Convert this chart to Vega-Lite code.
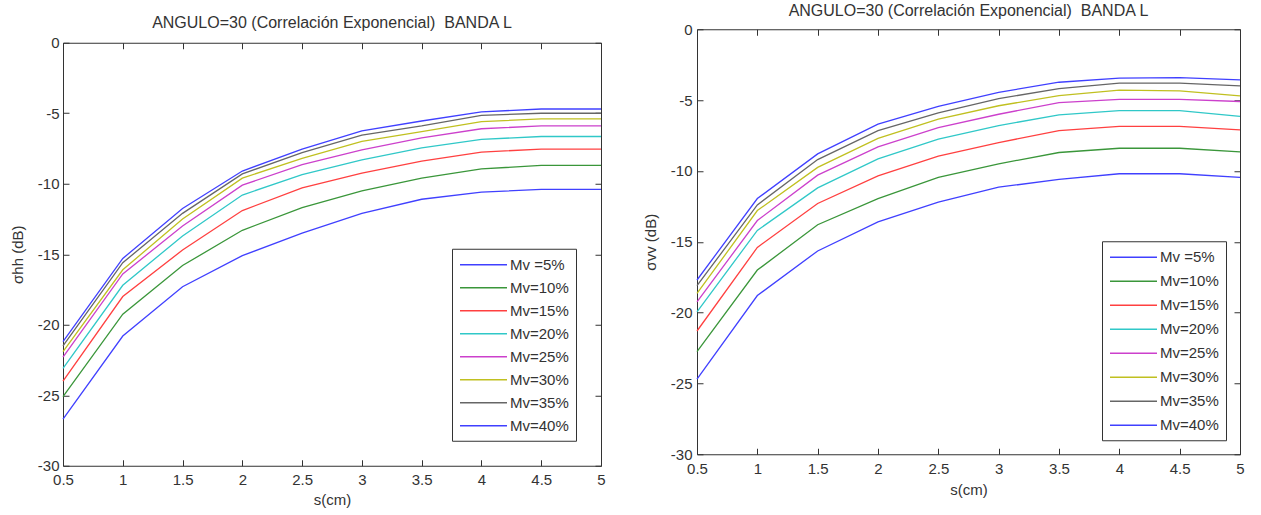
{
  "$schema": "https://vega.github.io/schema/vega-lite/v6.json",
  "padding": {"left": 9, "top": 2, "right": 5, "bottom": 0},
  "background": "white",
  "spacing": 36,
  "center": true,
  "config": {
    "font": "Liberation Sans",
    "view": {"stroke": "#333", "strokeWidth": 1},
    "axis": {
      "grid": false,
      "domain": false,
      "tickColor": "#333",
      "tickSize": 6,
      "offset": -6,
      "labelFlush": false,
      "labelFontSize": 15,
      "labelColor": "#333",
      "labelFont": "Liberation Sans",
      "titleFont": "Liberation Sans",
      "titleFontSize": 15,
      "titleFontWeight": "normal",
      "titleColor": "#333"
    },
    "legend": {
      "orient": "bottom-right",
      "title": null,
      "symbolType": "M-1,0H4.875",
      "symbolSize": 256,
      "symbolStrokeWidth": 1.5,
      "labelFontSize": 15,
      "labelColor": "#333",
      "labelFont": "Liberation Sans",
      "strokeColor": "#333",
      "fillColor": "#ffffff",
      "padding": 7,
      "labelOffset": 33
    },
    "title": {"font": "Liberation Sans", "fontSize": 16, "fontWeight": "normal", "color": "#333"}
  },
  "datasets": {
    "hh": [
      {"s":0.5,"Mv":"Mv =5%","v":-26.7},{"s":1,"Mv":"Mv =5%","v":-20.8},{"s":1.5,"Mv":"Mv =5%","v":-17.3},{"s":2,"Mv":"Mv =5%","v":-15.1},{"s":2.5,"Mv":"Mv =5%","v":-13.5},{"s":3,"Mv":"Mv =5%","v":-12.1},{"s":3.5,"Mv":"Mv =5%","v":-11.1},{"s":4,"Mv":"Mv =5%","v":-10.6},{"s":4.5,"Mv":"Mv =5%","v":-10.4},{"s":5,"Mv":"Mv =5%","v":-10.4},
      {"s":0.5,"Mv":"Mv=10%","v":-25.1},{"s":1,"Mv":"Mv=10%","v":-19.25},{"s":1.5,"Mv":"Mv=10%","v":-15.8},{"s":2,"Mv":"Mv=10%","v":-13.3},{"s":2.5,"Mv":"Mv=10%","v":-11.7},{"s":3,"Mv":"Mv=10%","v":-10.5},{"s":3.5,"Mv":"Mv=10%","v":-9.6},{"s":4,"Mv":"Mv=10%","v":-8.95},{"s":4.5,"Mv":"Mv=10%","v":-8.7},{"s":5,"Mv":"Mv=10%","v":-8.7},
      {"s":0.5,"Mv":"Mv=15%","v":-24.0},{"s":1,"Mv":"Mv=15%","v":-18.0},{"s":1.5,"Mv":"Mv=15%","v":-14.7},{"s":2,"Mv":"Mv=15%","v":-11.9},{"s":2.5,"Mv":"Mv=15%","v":-10.3},{"s":3,"Mv":"Mv=15%","v":-9.25},{"s":3.5,"Mv":"Mv=15%","v":-8.4},{"s":4,"Mv":"Mv=15%","v":-7.75},{"s":4.5,"Mv":"Mv=15%","v":-7.55},{"s":5,"Mv":"Mv=15%","v":-7.55},
      {"s":0.5,"Mv":"Mv=20%","v":-23.1},{"s":1,"Mv":"Mv=20%","v":-17.2},{"s":1.5,"Mv":"Mv=20%","v":-13.7},{"s":2,"Mv":"Mv=20%","v":-10.8},{"s":2.5,"Mv":"Mv=20%","v":-9.35},{"s":3,"Mv":"Mv=20%","v":-8.3},{"s":3.5,"Mv":"Mv=20%","v":-7.45},{"s":4,"Mv":"Mv=20%","v":-6.85},{"s":4.5,"Mv":"Mv=20%","v":-6.65},{"s":5,"Mv":"Mv=20%","v":-6.65},
      {"s":0.5,"Mv":"Mv=25%","v":-22.3},{"s":1,"Mv":"Mv=25%","v":-16.4},{"s":1.5,"Mv":"Mv=25%","v":-13.0},{"s":2,"Mv":"Mv=25%","v":-10.1},{"s":2.5,"Mv":"Mv=25%","v":-8.65},{"s":3,"Mv":"Mv=25%","v":-7.6},{"s":3.5,"Mv":"Mv=25%","v":-6.75},{"s":4,"Mv":"Mv=25%","v":-6.1},{"s":4.5,"Mv":"Mv=25%","v":-5.9},{"s":5,"Mv":"Mv=25%","v":-5.9},
      {"s":0.5,"Mv":"Mv=30%","v":-21.9},{"s":1,"Mv":"Mv=30%","v":-16.1},{"s":1.5,"Mv":"Mv=30%","v":-12.5},{"s":2,"Mv":"Mv=30%","v":-9.6},{"s":2.5,"Mv":"Mv=30%","v":-8.2},{"s":3,"Mv":"Mv=30%","v":-7.0},{"s":3.5,"Mv":"Mv=30%","v":-6.3},{"s":4,"Mv":"Mv=30%","v":-5.6},{"s":4.5,"Mv":"Mv=30%","v":-5.4},{"s":5,"Mv":"Mv=30%","v":-5.4},
      {"s":0.5,"Mv":"Mv=35%","v":-21.5},{"s":1,"Mv":"Mv=35%","v":-15.6},{"s":1.5,"Mv":"Mv=35%","v":-12.1},{"s":2,"Mv":"Mv=35%","v":-9.3},{"s":2.5,"Mv":"Mv=35%","v":-7.8},{"s":3,"Mv":"Mv=35%","v":-6.55},{"s":3.5,"Mv":"Mv=35%","v":-5.9},{"s":4,"Mv":"Mv=35%","v":-5.15},{"s":4.5,"Mv":"Mv=35%","v":-5.0},{"s":5,"Mv":"Mv=35%","v":-5.0},
      {"s":0.5,"Mv":"Mv=40%","v":-21.2},{"s":1,"Mv":"Mv=40%","v":-15.3},{"s":1.5,"Mv":"Mv=40%","v":-11.75},{"s":2,"Mv":"Mv=40%","v":-9.1},{"s":2.5,"Mv":"Mv=40%","v":-7.55},{"s":3,"Mv":"Mv=40%","v":-6.25},{"s":3.5,"Mv":"Mv=40%","v":-5.55},{"s":4,"Mv":"Mv=40%","v":-4.9},{"s":4.5,"Mv":"Mv=40%","v":-4.7},{"s":5,"Mv":"Mv=40%","v":-4.7}
    ],
    "vv": [
      {"s":0.5,"Mv":"Mv =5%","v":-24.7},{"s":1,"Mv":"Mv =5%","v":-18.8},{"s":1.5,"Mv":"Mv =5%","v":-15.65},{"s":2,"Mv":"Mv =5%","v":-13.6},{"s":2.5,"Mv":"Mv =5%","v":-12.2},{"s":3,"Mv":"Mv =5%","v":-11.15},{"s":3.5,"Mv":"Mv =5%","v":-10.6},{"s":4,"Mv":"Mv =5%","v":-10.2},{"s":4.5,"Mv":"Mv =5%","v":-10.2},{"s":5,"Mv":"Mv =5%","v":-10.45},
      {"s":0.5,"Mv":"Mv=10%","v":-22.75},{"s":1,"Mv":"Mv=10%","v":-17.0},{"s":1.5,"Mv":"Mv=10%","v":-13.8},{"s":2,"Mv":"Mv=10%","v":-11.95},{"s":2.5,"Mv":"Mv=10%","v":-10.45},{"s":3,"Mv":"Mv=10%","v":-9.5},{"s":3.5,"Mv":"Mv=10%","v":-8.7},{"s":4,"Mv":"Mv=10%","v":-8.4},{"s":4.5,"Mv":"Mv=10%","v":-8.4},{"s":5,"Mv":"Mv=10%","v":-8.65},
      {"s":0.5,"Mv":"Mv=15%","v":-21.3},{"s":1,"Mv":"Mv=15%","v":-15.4},{"s":1.5,"Mv":"Mv=15%","v":-12.3},{"s":2,"Mv":"Mv=15%","v":-10.35},{"s":2.5,"Mv":"Mv=15%","v":-8.95},{"s":3,"Mv":"Mv=15%","v":-8.0},{"s":3.5,"Mv":"Mv=15%","v":-7.15},{"s":4,"Mv":"Mv=15%","v":-6.85},{"s":4.5,"Mv":"Mv=15%","v":-6.85},{"s":5,"Mv":"Mv=15%","v":-7.1},
      {"s":0.5,"Mv":"Mv=20%","v":-19.95},{"s":1,"Mv":"Mv=20%","v":-14.2},{"s":1.5,"Mv":"Mv=20%","v":-11.2},{"s":2,"Mv":"Mv=20%","v":-9.15},{"s":2.5,"Mv":"Mv=20%","v":-7.75},{"s":3,"Mv":"Mv=20%","v":-6.8},{"s":3.5,"Mv":"Mv=20%","v":-6.05},{"s":4,"Mv":"Mv=20%","v":-5.75},{"s":4.5,"Mv":"Mv=20%","v":-5.75},{"s":5,"Mv":"Mv=20%","v":-6.15},
      {"s":0.5,"Mv":"Mv=25%","v":-19.25},{"s":1,"Mv":"Mv=25%","v":-13.5},{"s":1.5,"Mv":"Mv=25%","v":-10.3},{"s":2,"Mv":"Mv=25%","v":-8.3},{"s":2.5,"Mv":"Mv=25%","v":-6.95},{"s":3,"Mv":"Mv=25%","v":-6.0},{"s":3.5,"Mv":"Mv=25%","v":-5.18},{"s":4,"Mv":"Mv=25%","v":-4.95},{"s":4.5,"Mv":"Mv=25%","v":-4.95},{"s":5,"Mv":"Mv=25%","v":-5.1},
      {"s":0.5,"Mv":"Mv=30%","v":-18.65},{"s":1,"Mv":"Mv=30%","v":-12.8},{"s":1.5,"Mv":"Mv=30%","v":-9.75},{"s":2,"Mv":"Mv=30%","v":-7.7},{"s":2.5,"Mv":"Mv=30%","v":-6.35},{"s":3,"Mv":"Mv=30%","v":-5.4},{"s":3.5,"Mv":"Mv=30%","v":-4.68},{"s":4,"Mv":"Mv=30%","v":-4.3},{"s":4.5,"Mv":"Mv=30%","v":-4.35},{"s":5,"Mv":"Mv=30%","v":-4.7},
      {"s":0.5,"Mv":"Mv=35%","v":-18.1},{"s":1,"Mv":"Mv=35%","v":-12.4},{"s":1.5,"Mv":"Mv=35%","v":-9.2},{"s":2,"Mv":"Mv=35%","v":-7.15},{"s":2.5,"Mv":"Mv=35%","v":-5.9},{"s":3,"Mv":"Mv=35%","v":-4.9},{"s":3.5,"Mv":"Mv=35%","v":-4.19},{"s":4,"Mv":"Mv=35%","v":-3.8},{"s":4.5,"Mv":"Mv=35%","v":-3.8},{"s":5,"Mv":"Mv=35%","v":-4.0},
      {"s":0.5,"Mv":"Mv=40%","v":-17.7},{"s":1,"Mv":"Mv=40%","v":-11.95},{"s":1.5,"Mv":"Mv=40%","v":-8.8},{"s":2,"Mv":"Mv=40%","v":-6.7},{"s":2.5,"Mv":"Mv=40%","v":-5.45},{"s":3,"Mv":"Mv=40%","v":-4.45},{"s":3.5,"Mv":"Mv=40%","v":-3.74},{"s":4,"Mv":"Mv=40%","v":-3.45},{"s":4.5,"Mv":"Mv=40%","v":-3.42},{"s":5,"Mv":"Mv=40%","v":-3.58}
    ]
  },
  "hconcat": [
    {
      "width": 538,
      "height": 423,
      "title": {"text": "ANGULO=30 (Correlación Exponencial) \u00a0BANDA L", "offset": 5},
      "data": {"name": "hh"},
      "layer": [
        {
          "mark": {"type": "line", "strokeWidth": 1.3},
          "encoding": {
            "x": {"field": "s", "type": "quantitative", "scale": {"domain": [0.5, 5], "nice": false, "zero": false},
                  "axis": {"orient": "bottom", "values": [0.5,1,1.5,2,2.5,3,3.5,4,4.5,5], "format": "~g", "title": "s(cm)", "labelPadding": 7, "titlePadding": 5}},
            "y": {"field": "v", "type": "quantitative", "scale": {"domain": [-30, 0], "nice": false, "zero": false},
                  "axis": {"orient": "left", "values": [-30,-25,-20,-15,-10,-5,0], "labelExpr": "'' + datum.value", "title": "σhh (dB)", "labelPadding": 4, "titlePadding": 12}},
            "color": {"field": "Mv", "type": "nominal",
                      "scale": {"domain": ["Mv =5%","Mv=10%","Mv=15%","Mv=20%","Mv=25%","Mv=30%","Mv=35%","Mv=40%"],
                                "range": ["#4040ff","#3a963a","#ff4040","#30c8c8","#cc40cc","#c0c020","#666666","#4040ff"]},
                      "legend": {"offset": 25, "rowPadding": 6}}
          }
        },
        {
          "mark": {"type": "line", "opacity": 0},
          "encoding": {
            "x": {"field": "s", "type": "quantitative", "axis": {"orient": "top", "values": [0.5,1,1.5,2,2.5,3,3.5,4,4.5,5], "labels": false, "title": null}},
            "y": {"field": "v", "type": "quantitative", "axis": {"orient": "right", "values": [-30,-25,-20,-15,-10,-5,0], "labels": false, "title": null}},
            "detail": {"field": "Mv"}
          }
        }
      ],
      "resolve": {"axis": {"x": "independent", "y": "independent"}}
    },
    {
      "width": 543,
      "height": 425,
      "title": {"text": "ANGULO=30 (Correlación Exponencial) \u00a0BANDA L", "offset": 3},
      "data": {"name": "vv"},
      "layer": [
        {
          "mark": {"type": "line", "strokeWidth": 1.3},
          "encoding": {
            "x": {"field": "s", "type": "quantitative", "scale": {"domain": [0.5, 5], "nice": false, "zero": false},
                  "axis": {"orient": "bottom", "values": [0.5,1,1.5,2,2.5,3,3.5,4,4.5,5], "format": "~g", "title": ["s(cm)", " ", " "], "titleLineHeight": 12, "labelPadding": 7, "titlePadding": 6}},
            "y": {"field": "v", "type": "quantitative", "scale": {"domain": [-30, 0], "nice": false, "zero": false},
                  "axis": {"orient": "left", "values": [-30,-25,-20,-15,-10,-5,0], "labelExpr": "'' + datum.value", "title": "σvv (dB)", "labelPadding": 5, "titlePadding": 12}},
            "color": {"field": "Mv", "type": "nominal",
                      "scale": {"domain": ["Mv =5%","Mv=10%","Mv=15%","Mv=20%","Mv=25%","Mv=30%","Mv=35%","Mv=40%"],
                                "range": ["#4040ff","#3a963a","#ff4040","#30c8c8","#cc40cc","#c0c020","#666666","#4040ff"]},
                      "legend": {"offset": 14, "rowPadding": 7}}
          }
        },
        {
          "mark": {"type": "line", "opacity": 0},
          "encoding": {
            "x": {"field": "s", "type": "quantitative", "axis": {"orient": "top", "values": [0.5,1,1.5,2,2.5,3,3.5,4,4.5,5], "labels": false, "title": null}},
            "y": {"field": "v", "type": "quantitative", "axis": {"orient": "right", "values": [-30,-25,-20,-15,-10,-5,0], "labels": false, "title": null}},
            "detail": {"field": "Mv"}
          }
        }
      ],
      "resolve": {"axis": {"x": "independent", "y": "independent"}}
    }
  ],
  "resolve": {"scale": {"color": "independent"}, "legend": {"color": "independent"}}
}
